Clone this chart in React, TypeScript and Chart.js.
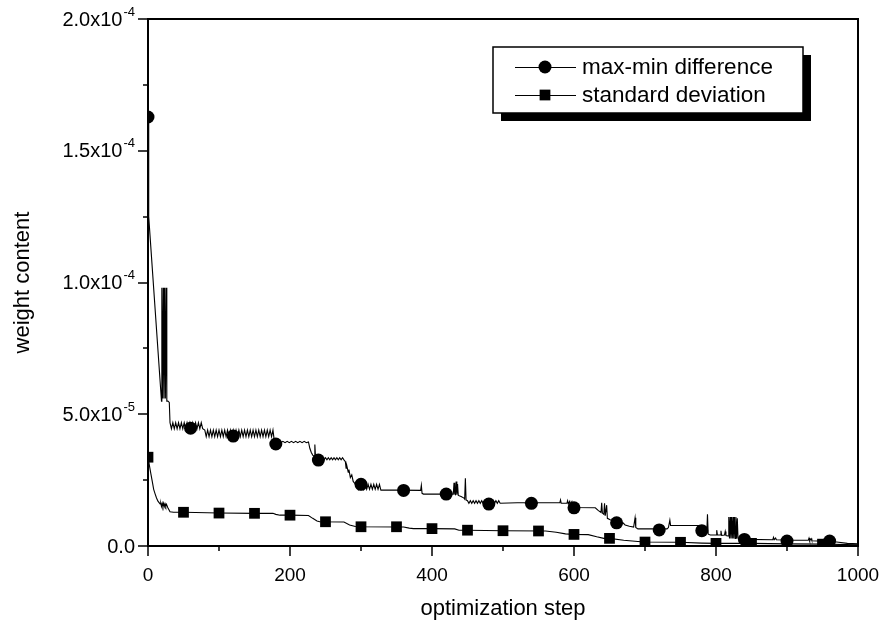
import React, { useEffect, useRef } from "react";
import { Chart, registerables } from "chart.js";
Chart.register(...registerables);

const FONT = '"Liberation Sans", Arial, Helvetica, sans-serif';
const UNIT = 1e-5;

const xTitle = "optimization step";
const yTitle = "weight content";
const seriesNames = ["max-min difference", "standard deviation"];

const xMajorTicks = [0, 200, 400, 600, 800, 1000];
const xMinorTicks = [100, 300, 500, 700, 900];
const xTickLabels = ["0", "200", "400", "600", "800", "1000"];
const yMajorTicks = [0, 5e-5, 1e-4, 1.5e-4, 2e-4];
const yMinorTicks = [2.5e-5, 7.5e-5, 1.25e-4, 1.75e-4];
const yTickMantissa = ["0.0", "5.0x10", "1.0x10", "1.5x10", "2.0x10"];
const yTickExponent = ["", "-5", "-4", "-4", "-4"];

// marker points (values in units of 1e-5)
const circleSteps = [0, 60, 120, 180, 240, 300, 360, 420, 480, 540, 600, 660, 720, 780, 840, 900, 960];
const circleValues = [16.28, 4.47, 4.17, 3.87, 3.26, 2.34, 2.11, 1.97, 1.59, 1.62, 1.45, 0.88, 0.61, 0.58, 0.25, 0.19, 0.19];
const squareSteps = [0, 50, 100, 150, 200, 250, 300, 350, 400, 450, 500, 550, 600, 650, 700, 750, 800, 850, 900, 950];
const squareValues = [3.37, 1.28, 1.25, 1.24, 1.17, 0.92, 0.73, 0.73, 0.66, 0.6, 0.58, 0.57, 0.44, 0.29, 0.15, 0.14, 0.1, 0.1, 0.08, 0.07];

// full traces [step, value in 1e-5]
const maxMinEarly: [number, number][] = [
  [0, 16.28], [1, 12.5], [19, 5.5], [19.5, 9.8], [20.5, 5.6], [21.5, 9.8], [22.5, 5.6], [23.5, 9.8],
  [24.5, 5.6], [25.5, 9.8], [26.5, 5.5], [28, 5.5], [30, 5.45],
  [31, 4.68], [33, 4.45], [35, 4.68], [37, 4.45], [39, 4.68], [41, 4.45], [43, 4.68], [45, 4.45],
  [47, 4.68], [49, 4.45], [51, 4.68], [53, 4.45], [55, 4.68], [57, 4.45], [59, 4.68], [61, 4.45],
  [63, 4.68], [65, 4.45], [67, 4.68], [69, 4.45], [71, 4.68], [73, 4.45], [75, 4.68], [77, 4.45],
  [80, 4.4], [82, 4.15], [84, 4.4], [86, 4.15], [88, 4.4], [90, 4.15], [92, 4.4], [94, 4.15],
  [96, 4.4], [98, 4.15], [100, 4.4], [102, 4.15], [104, 4.4], [106, 4.15], [108, 4.4], [110, 4.15],
  [112, 4.4], [114, 4.15], [116, 4.4], [118, 4.15], [120, 4.4], [122, 4.15], [124, 4.4], [126, 4.15],
  [128, 4.4], [130, 4.15], [132, 4.4], [134, 4.15], [136, 4.4], [138, 4.15], [140, 4.4], [142, 4.15],
  [144, 4.4], [146, 4.15], [148, 4.4], [150, 4.15], [152, 4.4], [154, 4.15], [156, 4.4], [158, 4.15],
  [160, 4.4], [162, 4.15], [164, 4.4], [166, 4.15], [168, 4.4], [170, 4.15], [172, 4.4], [174, 4.15],
  [176, 4.4],
];
const maxMinMiddle: [number, number][] = [
  [178, 3.97], [181, 3.92], [184, 3.97], [187, 3.92], [190, 3.97], [193, 3.92], [196, 3.97], [199, 3.92],
  [202, 3.97], [205, 3.92], [208, 3.97], [211, 3.92], [214, 3.97], [217, 3.92], [220, 3.97], [223, 3.92],
  [226, 3.95], [228, 3.7], [230, 3.55], [232, 3.45], [234, 3.4], [235, 3.85], [236, 3.35], [238, 3.33],
  [240, 3.27], [242, 3.35], [244, 3.27], [246, 3.35], [248, 3.27], [250, 3.35], [252, 3.27], [254, 3.35],
  [256, 3.27], [258, 3.35], [260, 3.27], [262, 3.35], [264, 3.27], [266, 3.35], [268, 3.27], [270, 3.35],
  [272, 3.27], [274, 3.35], [276, 3.27], [278, 3.2], [279, 2.95], [280, 3.05], [282, 2.8], [283, 2.9],
  [285, 2.6], [287, 2.7], [289, 2.45], [292, 2.35],
  [294, 2.34], [296, 2.15], [298, 2.34], [300, 2.15], [302, 2.34], [304, 2.15], [306, 2.34], [308, 2.15],
  [310, 2.34], [312, 2.15], [314, 2.34], [316, 2.15], [318, 2.34], [320, 2.15], [322, 2.34], [324, 2.15],
  [326, 2.34], [328, 2.12], [350, 2.12], [384, 2.11], [385, 2.3], [386, 2.0], [388, 1.97], [430, 1.97],
  [431, 2.4], [432, 1.97], [433, 1.95], [434, 2.45], [435, 1.95], [436, 2.35], [437, 1.92], [441, 1.88],
  [445, 1.82], [446, 1.78], [447, 2.57], [448, 1.75], [450, 1.72],
  [452, 1.62], [454, 1.72], [456, 1.62], [458, 1.72], [460, 1.62], [462, 1.72], [464, 1.62], [466, 1.72],
  [468, 1.62], [470, 1.72], [472, 1.62], [474, 1.72], [476, 1.62], [478, 1.72], [480, 1.62], [482, 1.72],
  [484, 1.62], [486, 1.72], [488, 1.62], [490, 1.72], [492, 1.62], [494, 1.72], [496, 1.62],
];
const maxMinLate: [number, number][] = [
  [520, 1.64], [560, 1.64], [580, 1.64], [581, 1.75], [582, 1.62], [590, 1.62], [591, 1.72], [592, 1.6],
  [594, 1.7], [595, 1.58], [597, 1.68], [598, 1.5], [600, 1.46], [630, 1.45], [634, 1.35], [638, 1.27],
  [639, 1.64], [640, 1.25], [642, 1.2], [643, 1.62], [644, 1.15], [646, 1.55], [647, 1.05], [651, 1.0],
  [656, 0.95], [662, 0.88], [669, 0.88], [672, 0.8], [678, 0.75], [684, 0.72], [686, 1.07], [687, 0.7],
  [690, 0.65], [731, 0.65], [733, 0.7], [735, 0.98], [736, 0.78], [778, 0.78], [781, 0.6], [785, 0.52],
  [787, 0.5], [788, 1.2], [789, 0.45], [792, 0.42], [800, 0.42], [801, 0.6], [802, 0.42], [806, 0.42],
  [807, 0.58], [808, 0.4], [812, 0.42], [813, 0.55], [814, 0.4], [817, 0.38],
  [818, 1.1], [819, 0.29], [820, 1.1], [821, 0.29], [822, 1.1], [823, 0.29], [824, 1.1], [825, 0.29],
  [826, 1.1], [827, 0.29], [828, 1.1], [829, 0.29], [830, 1.05], [831, 0.29], [845, 0.25], [880, 0.24],
  [881, 0.33], [882, 0.24], [884, 0.3], [885, 0.24], [910, 0.22], [930, 0.22], [931, 0.3], [932, 0.2],
  [934, 0.28], [935, 0.2], [950, 0.18], [970, 0.15], [985, 0.1], [1000, 0.08],
];
const stdDevTrace: [number, number][] = [
  [0, 3.37], [2, 3.05], [4, 2.75], [6, 2.45], [8, 2.15], [10, 1.98], [12, 1.82], [14, 1.7], [17, 1.6],
  [18, 1.62], [19, 1.5], [20, 1.62], [21, 1.5], [22, 1.62], [23, 1.5], [24, 1.6], [25, 1.5], [26, 1.58],
  [28, 1.45], [31, 1.3], [36, 1.28], [50, 1.28], [100, 1.25], [150, 1.24], [176, 1.24], [180, 1.2],
  [186, 1.17], [200, 1.17], [226, 1.16], [232, 1.05], [238, 0.95], [242, 0.92], [276, 0.91], [284, 0.8],
  [292, 0.74], [300, 0.73], [360, 0.72], [368, 0.68], [374, 0.66], [400, 0.66], [432, 0.65], [438, 0.6],
  [450, 0.6], [500, 0.58], [560, 0.57], [575, 0.52], [588, 0.46], [600, 0.44], [620, 0.43], [632, 0.35],
  [642, 0.29], [650, 0.29], [670, 0.22], [690, 0.17], [700, 0.15], [750, 0.14], [780, 0.11], [800, 0.1],
  [850, 0.1], [900, 0.08], [950, 0.07], [1000, 0.05],
];

const toPts = (arr: [number, number][]) => arr.map(([s, v]) => ({ x: s, y: v * UNIT }));
const zipPts = (xs: number[], vs: number[]) => xs.map((s, i) => ({ x: s, y: vs[i] * UNIT }));

const CIRCLE_R = 6.5;
const RECT_R = 7.6;

const framePlugin = {
  id: "frame",
  afterDraw(chart: any) {
    const { ctx, chartArea: a, scales } = chart;
    const x = scales.x, y = scales.y;
    ctx.save();
    ctx.strokeStyle = "#000";
    ctx.fillStyle = "#000";
    ctx.lineWidth = 2;
    ctx.strokeRect(a.left, a.top, a.right - a.left, a.bottom - a.top);
    ctx.lineWidth = 1.5;
    ctx.beginPath();
    xMajorTicks.forEach((v) => { const p = Math.round(x.getPixelForValue(v)); ctx.moveTo(p, a.bottom); ctx.lineTo(p, a.bottom + 10); });
    xMinorTicks.forEach((v) => { const p = Math.round(x.getPixelForValue(v)); ctx.moveTo(p, a.bottom); ctx.lineTo(p, a.bottom + 5); });
    yMajorTicks.forEach((v) => { const p = Math.round(y.getPixelForValue(v)); ctx.moveTo(a.left, p); ctx.lineTo(a.left - 10, p); });
    yMinorTicks.forEach((v) => { const p = Math.round(y.getPixelForValue(v)); ctx.moveTo(a.left, p); ctx.lineTo(a.left - 5, p); });
    ctx.stroke();

    // x tick labels
    ctx.font = `19px ${FONT}`;
    ctx.textAlign = "center";
    ctx.textBaseline = "middle";
    xMajorTicks.forEach((v, i) => ctx.fillText(xTickLabels[i], x.getPixelForValue(v), 576));

    // y tick labels with superscript
    yMajorTicks.forEach((v, i) => {
      const p = y.getPixelForValue(v);
      const right = a.left - 13;
      ctx.textAlign = "right";
      ctx.textBaseline = "middle";
      let expW = 0;
      if (yTickExponent[i]) {
        ctx.font = `13px ${FONT}`;
        expW = ctx.measureText(yTickExponent[i]).width;
        ctx.fillText(yTickExponent[i], right, p - 7);
      }
      ctx.font = `20px ${FONT}`;
      ctx.fillText(yTickMantissa[i], right - expW - (expW ? 1 : 0), p + 1);
    });

    // axis titles
    ctx.font = `22px ${FONT}`;
    ctx.textAlign = "center";
    ctx.textBaseline = "middle";
    ctx.fillText(xTitle, (a.left + a.right) / 2, 609);
    ctx.save();
    ctx.translate(23, (a.top + a.bottom) / 2);
    ctx.rotate(-Math.PI / 2);
    ctx.fillText(yTitle, 0, 0);
    ctx.restore();

    // legend
    const bx = 493, by = 47, bw = 310, bh = 66, off = 8;
    ctx.fillStyle = "#000";
    ctx.fillRect(bx + off, by + off, bw, bh);
    ctx.fillStyle = "#fff";
    ctx.fillRect(bx, by, bw, bh);
    ctx.strokeStyle = "#000";
    ctx.lineWidth = 1.5;
    ctx.strokeRect(bx, by, bw, bh);
    const rows = [67, 95];
    ctx.lineWidth = 1;
    rows.forEach((ry, i) => {
      ctx.beginPath();
      ctx.moveTo(515, ry + 0.5);
      ctx.lineTo(576, ry + 0.5);
      ctx.stroke();
      ctx.fillStyle = "#000";
      if (i === 0) {
        ctx.beginPath();
        ctx.arc(545, ry, CIRCLE_R, 0, Math.PI * 2);
        ctx.fill();
      } else {
        const s = RECT_R * Math.SQRT1_2;
        ctx.fillRect(545 - s, ry - s, 2 * s, 2 * s);
      }
      ctx.font = `22.5px ${FONT}`;
      ctx.textAlign = "left";
      ctx.textBaseline = "middle";
      ctx.fillText(seriesNames[i], 582, ry + 1);
    });
    ctx.restore();
  },
};

export default function App() {
  const ref = useRef<HTMLCanvasElement | null>(null);
  useEffect(() => {
    if (!ref.current) return;
    const chart = new Chart(ref.current, {
      type: "scatter",
      data: {
        datasets: [
          {
            label: seriesNames[0] + " markers",
            data: zipPts(circleSteps, circleValues),
            showLine: false,
            pointStyle: "circle",
            pointRadius: CIRCLE_R,
            pointBackgroundColor: "#000",
            pointBorderColor: "#000",
            pointBorderWidth: 0,
          },
          {
            label: seriesNames[1] + " markers",
            data: zipPts(squareSteps, squareValues),
            showLine: false,
            pointStyle: "rect",
            pointRadius: RECT_R,
            pointBackgroundColor: "#000",
            pointBorderColor: "#000",
            pointBorderWidth: 0,
          },
          {
            label: seriesNames[0],
            data: toPts([...maxMinEarly, ...maxMinMiddle, ...maxMinLate]),
            showLine: true,
            pointRadius: 0,
            borderColor: "#000",
            borderWidth: 1.1,
            tension: 0,
          },
          {
            label: seriesNames[1],
            data: toPts(stdDevTrace),
            showLine: true,
            pointRadius: 0,
            borderColor: "#000",
            borderWidth: 1.1,
            tension: 0,
          },
        ],
      },
      options: {
        animation: false,
        responsive: false,
        devicePixelRatio: 1,
        events: [],
        layout: { padding: { top: 19, right: 28, left: 0, bottom: 0 } },
        plugins: { legend: { display: false }, tooltip: { enabled: false }, title: { display: false } },
        scales: {
          x: {
            type: "linear",
            min: 0,
            max: 1000,
            grid: { display: false },
            border: { display: false },
            ticks: { display: false },
            afterFit: (s: any) => { s.height = 85; },
          },
          y: {
            type: "linear",
            min: 0,
            max: 2e-4,
            grid: { display: false },
            border: { display: false },
            ticks: { display: false },
            afterFit: (s: any) => { s.width = 148; },
          },
        },
      },
      plugins: [framePlugin],
    });
    return () => chart.destroy();
  }, []);
  return (
    <div style={{ position: "absolute", left: 0, top: 0, width: 886, height: 631, background: "#fff" }}>
      <canvas ref={ref} width={886} height={631} style={{ display: "block", width: 886, height: 631 }} />
    </div>
  );
}
